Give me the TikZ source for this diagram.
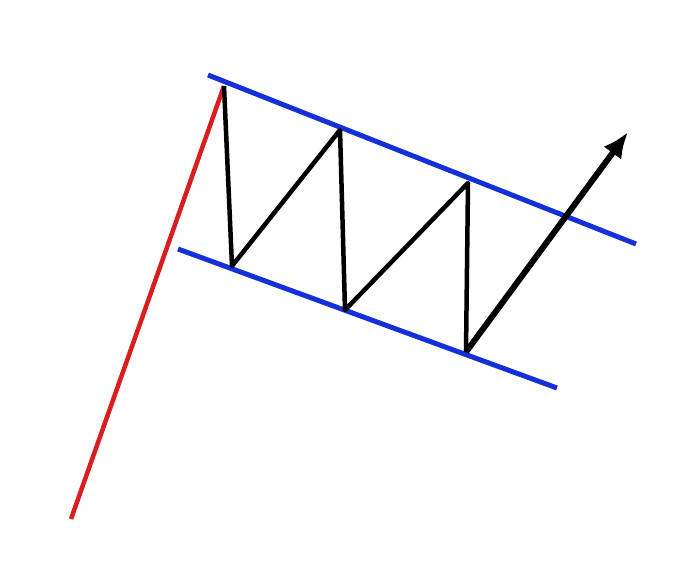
\documentclass[tikz,border=0pt]{standalone}
\usepackage{tikz}
\usetikzlibrary{arrows.meta}
\definecolor{ChannelBlue}{HTML}{1530D8}
\definecolor{PoleRed}{HTML}{D81E1E}

\begin{document}
\begin{tikzpicture}[x=1pt,y=-1pt,>=Latex]
  \useasboundingbox (0,0) rectangle (700,568);
  % flag pole
  \coordinate (base) at (71,519);
  \coordinate (top) at (224,86);
  \draw[line width=4.5pt,PoleRed] (base) -- (top);
  % channel lines
  \coordinate (upL) at (208,75);
  \coordinate (upR) at (636,244);
  \coordinate (loL) at (178,249);
  \coordinate (loR) at (557,388);
  \draw[line width=5pt,ChannelBlue] (upL) -- (upR);
  \draw[line width=5pt,ChannelBlue] (loL) -- (loR);
  % price swings
  \coordinate (t1) at (232,266);
  \coordinate (p1) at (340,130);
  \coordinate (t2) at (345,310);
  \coordinate (p2) at (468,183);
  \coordinate (t3) at (466,352);
  \coordinate (tip) at (628,132);
  \draw[line width=4.5pt,line join=round] (top) -- (t1) -- (p1) -- (t2) -- (p2) -- (t3);
  \draw[line width=6pt,-{Latex[length=26pt,width=22pt]}] (t3) -- (tip);
\end{tikzpicture}
\end{document}
